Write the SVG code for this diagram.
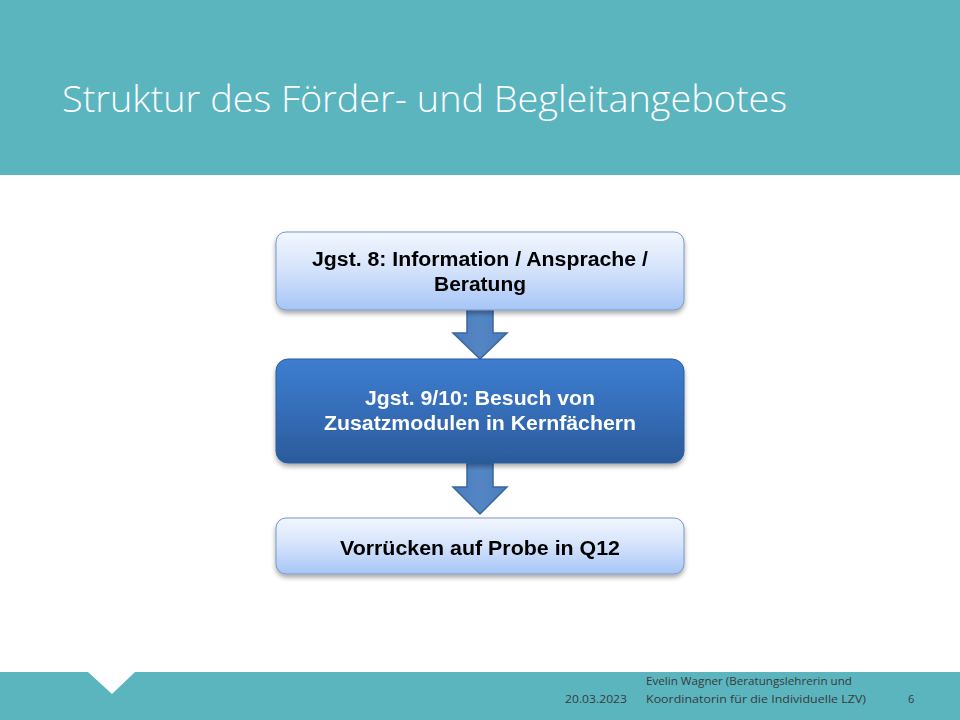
<svg xmlns="http://www.w3.org/2000/svg" width="960" height="720" viewBox="0 0 960 720">
  <defs>
    <linearGradient id="gLight" x1="0" y1="0" x2="0" y2="1">
      <stop offset="0" stop-color="#F3F7FE"/>
      <stop offset="0.5" stop-color="#D3E2FB"/>
      <stop offset="1" stop-color="#A6C5F6"/>
    </linearGradient>
    <linearGradient id="gDark" x1="0" y1="0" x2="0" y2="1">
      <stop offset="0" stop-color="#3D7DD0"/>
      <stop offset="0.5" stop-color="#356DB8"/>
      <stop offset="1" stop-color="#2B5A9B"/>
    </linearGradient>
    <linearGradient id="gArrow" x1="0" y1="0" x2="1" y2="0">
      <stop offset="0" stop-color="#4A7CBD"/>
      <stop offset="0.5" stop-color="#5486C6"/>
      <stop offset="1" stop-color="#4A7CBD"/>
    </linearGradient>
    <filter id="shadow" x="-10%" y="-20%" width="120%" height="150%">
      <feGaussianBlur in="SourceAlpha" stdDeviation="2.5"/>
      <feOffset dx="0" dy="3" result="b"/>
      <feComponentTransfer><feFuncA type="linear" slope="0.35"/></feComponentTransfer>
      <feMerge><feMergeNode/><feMergeNode in="SourceGraphic"/></feMerge>
    </filter>
  </defs>
  <style>
    .band { fill: #5AB5BF; }
    .title { font-family: "Open Sans", "Liberation Sans", sans-serif; font-weight: 300; font-size: 36px; fill: #FFFFFF; }
    .foot { font-family: "Open Sans", "Liberation Sans", sans-serif; font-size: 11px; fill: #3A3A3A; }
    .light { fill: url(#gLight); stroke: #7A97C6; stroke-width: 1; }
    .dark { fill: url(#gDark); stroke: #2E5C99; stroke-width: 1; }
    .lbl { font-family: "Liberation Sans", Arial, sans-serif; font-weight: bold; font-size: 19.5px; text-anchor: middle; }
    .lblDark { fill: #000000; }
    .lblLight { fill: #FFFFFF; }
    .arrow { fill: url(#gArrow); stroke: #3A659E; stroke-width: 1.5; stroke-linejoin: miter; }
  </style>

  <rect width="960" height="720" fill="#FFFFFF"/>

  <g id="header">
    <rect class="band" x="0" y="0" width="960" height="175"/>
    <text class="title" x="62" y="112" textLength="725" lengthAdjust="spacingAndGlyphs">Struktur des Förder- und Begleitangebotes</text>
  </g>

  <g id="footer">
    <path class="band" d="M0 672 H88 L112 694 L135 672 H960 V720 H0 Z"/>
    <text class="foot" x="565" y="703" textLength="62" lengthAdjust="spacingAndGlyphs">20.03.2023</text>
    <text class="foot" x="646" y="685" textLength="206" lengthAdjust="spacingAndGlyphs">Evelin Wagner (Beratungslehrerin und</text>
    <text class="foot" x="646" y="703" textLength="220" lengthAdjust="spacingAndGlyphs">Koordinatorin für die Individuelle LZV)</text>
    <text class="foot" x="908" y="703">6</text>
  </g>

  <g id="connectors">
    <path class="arrow" d="M467 310 H493 V333 H507 L480 359 L453 333 H467 Z"/>
    <path class="arrow" d="M467 463 H493 V487 H507 L480 514 L453 487 H467 Z"/>
  </g>

  <g id="node1" filter="url(#shadow)">
    <rect class="light" x="276" y="232" width="408" height="78" rx="10" ry="10"/>
    <text class="lbl lblDark" x="480" y="266" textLength="336" lengthAdjust="spacingAndGlyphs">Jgst. 8: Information / Ansprache /</text>
    <text class="lbl lblDark" x="480" y="291" textLength="92" lengthAdjust="spacingAndGlyphs">Beratung</text>
  </g>

  <g id="node2" filter="url(#shadow)">
    <rect class="dark" x="276" y="359" width="408" height="104" rx="12" ry="12"/>
    <text class="lbl lblLight" x="480" y="405" textLength="230" lengthAdjust="spacingAndGlyphs">Jgst. 9/10: Besuch von</text>
    <text class="lbl lblLight" x="480" y="430" textLength="312" lengthAdjust="spacingAndGlyphs">Zusatzmodulen in Kernfächern</text>
  </g>

  <g id="node3" filter="url(#shadow)">
    <rect class="light" x="276" y="518" width="408" height="56" rx="10" ry="10"/>
    <text class="lbl lblDark" x="480" y="555" textLength="280" lengthAdjust="spacingAndGlyphs">Vorrücken auf Probe in Q12</text>
  </g>
</svg>
